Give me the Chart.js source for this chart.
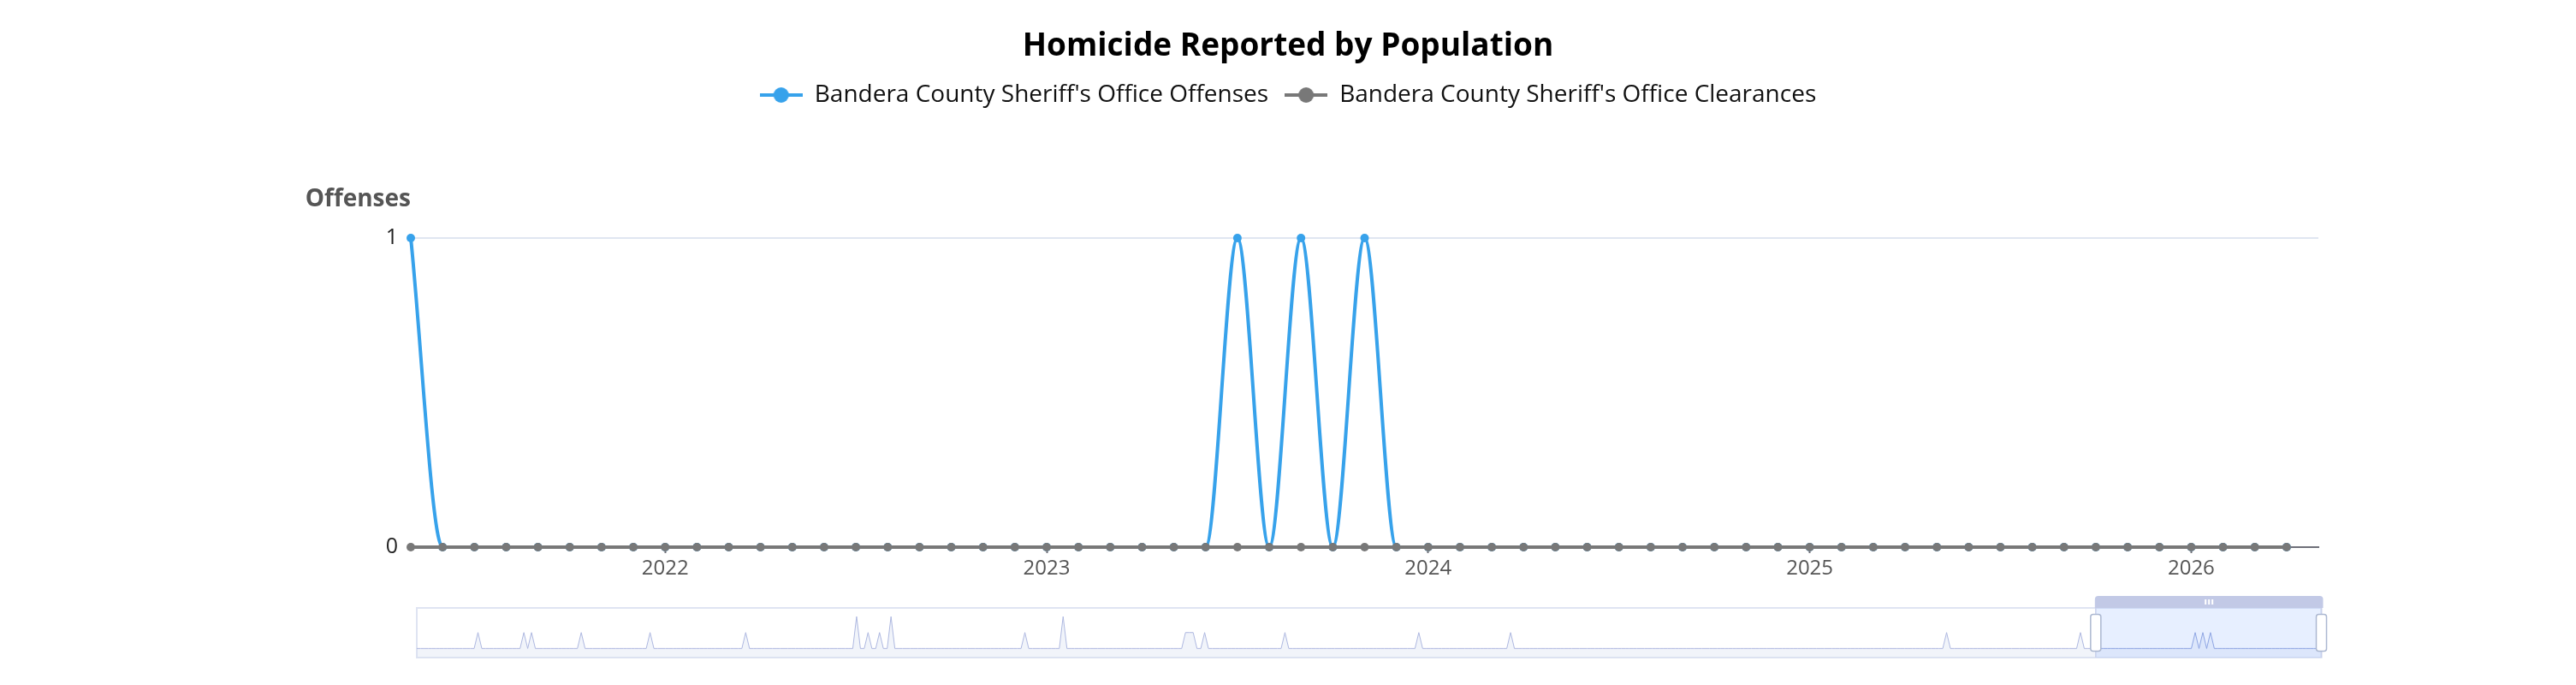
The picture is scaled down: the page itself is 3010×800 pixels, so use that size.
<!DOCTYPE html>
<html>
<head>
<meta charset="utf-8">
<title>Homicide Reported by Population</title>
<script src="https://cdn.jsdelivr.net/npm/chart.js@4.4.1/dist/chart.umd.min.js"></script>
<style>
  html, body { margin: 0; padding: 0; background: #fff; }
  #wrap { position: relative; width: 3010px; height: 800px; }
  #mainBox { position: absolute; left: 0; top: 0; width: 3010px; height: 690px; }
  #zoomBox { position: absolute; left: 0; top: 690px; width: 3010px; height: 110px; }
</style>
</head>
<body>
<div id="wrap">
  <div id="mainBox"><canvas id="mainChart"></canvas></div>
  <div id="zoomBox"><canvas id="zoomChart"></canvas></div>
</div>
<script>
'use strict';

const chartTitle = 'Homicide Reported by Population';
const yAxisName = 'Offenses';
const seriesNames = ["Bandera County Sheriff's Office Offenses", "Bandera County Sheriff's Office Clearances"];
const seriesColors = ['#37A2EB', '#787878'];

// months shown in the main window (last label has no report yet)
const monthLabels = [
  '2021-05', '2021-06', '2021-07', '2021-08', '2021-09', '2021-10', '2021-11', '2021-12',
  '2022-01', '2022-02', '2022-03', '2022-04', '2022-05', '2022-06', '2022-07', '2022-08', '2022-09', '2022-10', '2022-11', '2022-12',
  '2023-01', '2023-02', '2023-03', '2023-04', '2023-05', '2023-06', '2023-07', '2023-08', '2023-09', '2023-10', '2023-11', '2023-12',
  '2024-01', '2024-02', '2024-03', '2024-04', '2024-05', '2024-06', '2024-07', '2024-08', '2024-09', '2024-10', '2024-11', '2024-12',
  '2025-01', '2025-02', '2025-03', '2025-04', '2025-05', '2025-06', '2025-07', '2025-08', '2025-09', '2025-10', '2025-11', '2025-12',
  '2026-01', '2026-02', '2026-03', '2026-04', '2026-05'
];

const offenses = [
  1, 0, 0, 0, 0, 0, 0, 0, 0, 0, 0, 0,
  0, 0, 0, 0, 0, 0, 0, 0, 0, 0, 0, 0,
  0, 0, 1, 0, 1, 0, 1, 0, 0, 0, 0, 0,
  0, 0, 0, 0, 0, 0, 0, 0, 0, 0, 0, 0,
  0, 0, 0, 0, 0, 0, 0, 0, 0, 0, 0, 0
];

const clearances = [
  0, 0, 0, 0, 0, 0, 0, 0, 0, 0, 0, 0,
  0, 0, 0, 0, 0, 0, 0, 0, 0, 0, 0, 0,
  0, 0, 0, 0, 0, 0, 0, 0, 0, 0, 0, 0,
  0, 0, 0, 0, 0, 0, 0, 0, 0, 0, 0, 0,
  0, 0, 0, 0, 0, 0, 0, 0, 0, 0, 0, 0
];

// full offense history for the zoom slider (months with no offense are 0)
const historyFirstMonth = '1984-10';
const historyLastMonth = '2026-04';
const historyEventMonths = [
  '1986-02', '1987-02', '1987-04', '1988-05', '1989-11', '1991-12',
  '1994-05', '1994-08', '1994-11', '1995-02', '1998-01', '1998-11',
  '2001-07', '2001-08', '2001-09', '2001-12', '2003-09', '2006-08',
  '2008-08', '2018-02', '2021-01', '2021-05', '2023-07', '2023-09', '2023-11'
];
const historyEventCounts = [
  1, 1, 1, 1, 1, 1,
  2, 1, 1, 2, 1, 2,
  1, 1, 1, 1, 1, 1,
  1, 1, 1, 1, 1, 1, 1
];

let historyMonths = [];
let y = +historyFirstMonth.slice(0, 4);
let m = +historyFirstMonth.slice(5, 7);
while (true) {
  let key = y + '-' + String(m).padStart(2, '0');
  historyMonths.push(key);
  if (key === historyLastMonth) break;
  m++;
  if (m > 12) { m = 1; y++; }
}
let historyCounts = historyMonths.map(function (k) {
  let i = historyEventMonths.indexOf(k);
  return i >= 0 ? historyEventCounts[i] : 0;
});
let windowStart = historyMonths.indexOf(monthLabels[0]);

Chart.defaults.font.family = '"Open Sans", "Noto Sans", sans-serif';
Chart.defaults.animation = false;

function makeLegendIcon(color) {
  let c = document.createElement('canvas');
  c.width = 50;
  c.height = 20;
  let g = c.getContext('2d');
  g.strokeStyle = color;
  g.lineWidth = 4;
  g.beginPath();
  g.moveTo(0, 10);
  g.lineTo(50, 10);
  g.stroke();
  g.fillStyle = color;
  g.beginPath();
  g.arc(25, 10, 9, 0, Math.PI * 2);
  g.fill();
  return c;
}
let legendIcons = seriesColors.map(makeLegendIcon);

let legendSpace = {
  id: 'legendSpace',
  beforeInit(chart) {
    let fit = chart.legend.fit;
    chart.legend.fit = function () {
      fit.call(this);
      this.height = 200;
    };
  }
};

let axisName = {
  id: 'axisName',
  afterDraw(chart) {
    let ctx = chart.ctx;
    ctx.save();
    ctx.font = 'bold 28px "Open Sans", sans-serif';
    ctx.fillStyle = '#555555';
    ctx.textAlign = 'right';
    ctx.textBaseline = 'middle';
    ctx.fillText(yAxisName, chart.chartArea.left, chart.chartArea.top - 45);
    ctx.restore();
  }
};

function isJanuary(index) {
  let lab = monthLabels[index];
  return lab !== undefined && lab.slice(5) === '01';
}

new Chart(document.getElementById('mainChart'), {
  type: 'line',
  data: {
    labels: monthLabels,
    datasets: [
      {
        label: seriesNames[0],
        data: offenses,
        borderColor: seriesColors[0],
        backgroundColor: seriesColors[0],
        borderWidth: 4,
        pointRadius: 5,
        pointBorderWidth: 0,
        cubicInterpolationMode: 'monotone',
        clip: false,
        order: 1
      },
      {
        label: seriesNames[1],
        data: clearances,
        borderColor: seriesColors[1],
        backgroundColor: seriesColors[1],
        borderWidth: 4,
        pointRadius: 5,
        pointBorderWidth: 0,
        clip: false,
        order: 0
      }
    ]
  },
  options: {
    responsive: true,
    maintainAspectRatio: false,
    devicePixelRatio: 1,
    layout: { padding: { left: 301, right: 301, top: 0, bottom: 0 } },
    plugins: {
      title: {
        display: true,
        text: chartTitle,
        color: '#000',
        font: { size: 37, weight: 'bold' },
        padding: { top: 31.8, bottom: 1.8 }
      },
      legend: {
        display: true,
        labels: {
          color: '#111',
          font: { size: 28 },
          usePointStyle: true,
          pointStyleWidth: 50,
          padding: 19,
          sort: function (a, b) { return a.datasetIndex - b.datasetIndex; },
          generateLabels: function (chart) {
            let items = Chart.defaults.plugins.legend.labels.generateLabels(chart);
            items.forEach(function (it) { it.pointStyle = legendIcons[it.datasetIndex]; });
            return items;
          }
        }
      },
      tooltip: { enabled: false }
    },
    scales: {
      x: {
        afterFit: function (scale) { scale.height = 51; },
        grid: {
          drawOnChartArea: false,
          drawTicks: true,
          tickLength: 7,
          tickWidth: 2,
          tickColor: function (ctx) { return isJanuary(ctx.index) ? '#6E7079' : 'rgba(0,0,0,0)'; }
        },
        border: { display: true, color: '#6E7079', width: 2 },
        ticks: {
          autoSkip: false,
          maxRotation: 0,
          padding: 4,
          color: '#555',
          font: { size: 24 },
          callback: function (value, index) {
            return isJanuary(index) ? monthLabels[index].slice(0, 4) : '';
          }
        }
      },
      y: {
        min: 0,
        max: 1,
        afterFit: function (scale) { scale.width = 179; },
        border: { display: false },
        grid: {
          drawTicks: false,
          lineWidth: 2,
          color: function (ctx) { return ctx.tick && ctx.tick.value === 0 ? 'rgba(0,0,0,0)' : '#E0E6F1'; }
        },
        ticks: {
          stepSize: 1,
          padding: 15,
          color: '#222',
          font: { size: 25 }
        }
      }
    }
  },
  plugins: [legendSpace, axisName]
});

// zoom slider under the chart
let sliderDecor = {
  id: 'sliderDecor',
  beforeDatasetsDraw(chart) {
    let a = chart.chartArea;
    let ctx = chart.ctx;
    ctx.save();
    ctx.strokeStyle = '#DFE4F2';
    ctx.lineWidth = 2;
    ctx.strokeRect(a.left, a.top, a.right - a.left, a.bottom - a.top);
    ctx.restore();
  },
  afterDatasetsDraw(chart) {
    let a = chart.chartArea;
    let ctx = chart.ctx;
    let xs = chart.scales.x;
    let x0 = xs.getPixelForValue(windowStart);
    let x1 = xs.getPixelForValue(historyMonths.length - 1);
    let mid = (a.top + a.bottom) / 2;
    ctx.save();
    // selected window
    ctx.fillStyle = 'rgba(135,175,255,0.2)';
    ctx.fillRect(x0, a.top, x1 - x0, a.bottom - a.top);
    ctx.strokeStyle = '#C9D1EC';
    ctx.lineWidth = 1.5;
    ctx.beginPath();
    ctx.moveTo(x0, a.top); ctx.lineTo(x0, a.bottom);
    ctx.moveTo(x1, a.top); ctx.lineTo(x1, a.bottom);
    ctx.stroke();
    // move bar on top
    ctx.fillStyle = '#C2C9E6';
    ctx.beginPath();
    ctx.roundRect(x0 - 1, a.top - 14, x1 - x0 + 3, 14, [4, 4, 0, 0]);
    ctx.fill();
    ctx.fillStyle = '#fff';
    let cx = (x0 + x1) / 2;
    [-4.5, -0.5, 3.5].forEach(function (d) {
      ctx.fillRect(cx + d, a.top - 10, 2, 6);
    });
    // handles
    [x0, x1].forEach(function (hx) {
      ctx.beginPath();
      ctx.roundRect(hx - 6, mid - 21.5, 12, 43, 3);
      ctx.fillStyle = '#fff';
      ctx.fill();
      ctx.strokeStyle = '#ACB8D1';
      ctx.lineWidth = 1.5;
      ctx.stroke();
    });
    ctx.restore();
  }
};

new Chart(document.getElementById('zoomChart'), {
  type: 'line',
  data: {
    labels: historyMonths,
    datasets: [{
      data: historyCounts,
      borderColor: '#AEB8E0',
      backgroundColor: 'rgba(210,219,238,0.3)',
      borderWidth: 1,
      pointRadius: 0,
      fill: 'start',
      tension: 0,
      segment: {
        borderColor: function (c) { return c.p0DataIndex >= windowStart ? '#8FA2DC' : undefined; }
      }
    }]
  },
  options: {
    responsive: true,
    maintainAspectRatio: false,
    devicePixelRatio: 1,
    layout: { padding: { left: 487, right: 297.5, top: 20, bottom: 32 } },
    plugins: { legend: { display: false }, title: { display: false }, tooltip: { enabled: false } },
    scales: {
      x: { display: false, offset: false },
      y: { display: false, min: -0.57, max: 2.54 }
    }
  },
  plugins: [sliderDecor]
});
</script>
</body>
</html>
